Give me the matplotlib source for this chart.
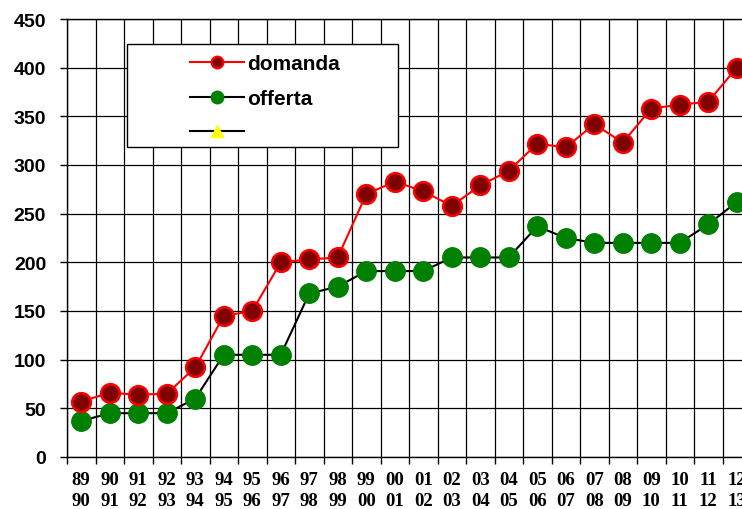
import matplotlib
matplotlib.use('Agg')
import matplotlib.pyplot as plt
from matplotlib.lines import Line2D
from matplotlib.patches import Rectangle
import numpy as np

years = ['89\n90', '90\n91', '91\n92', '92\n93', '93\n94', '94\n95', '95\n96', '96\n97',
         '97\n98', '98\n99', '99\n00', '00\n01', '01\n02', '02\n03', '03\n04', '04\n05',
         '05\n06', '06\n07', '07\n08', '08\n09', '09\n10', '10\n11', '11\n12', '12\n13']
domanda = [57, 66, 64, 65, 92, 145, 150, 200, 203, 205, 270, 283, 273, 258, 279, 294,
           322, 318, 342, 323, 358, 362, 365, 400]
offerta = [37, 45, 45, 45, 60, 105, 105, 105, 168, 175, 191, 191, 191, 205, 205, 205,
           237, 225, 220, 220, 220, 220, 239, 262]
y_ticks = [0, 50, 100, 150, 200, 250, 300, 350, 400, 450]

fig = plt.figure(figsize=(7.42, 5.10), dpi=100)
ax = fig.add_axes([67 / 742, 1 - 458 / 510, 684 / 742, 438 / 510])

x = np.arange(len(years))
ax.plot(x, offerta, color='black', lw=1.5, marker='o', ms=14,
        mfc='#008000', mec='#008000', zorder=3)
ax.plot(x, domanda, color='red', lw=1.5, marker='o', ms=13.5,
        mfc='#800000', mec='red', mew=1.8, zorder=4)

ax.set_xlim(-0.5, len(years) - 0.5)
ax.set_ylim(0, 450)
ax.set_yticks(y_ticks)
ax.set_yticklabels([str(v) for v in y_ticks], fontsize=14, fontweight='bold',
                   family='Liberation Sans')
ax.tick_params(axis='y', length=5, width=1, pad=10)

ax.set_xticks(np.arange(len(years) + 1) - 0.5)
ax.set_xticklabels([])
ax.tick_params(axis='x', which='major', length=5, width=1, direction='out')
ax.set_xticks(x, minor=True)
ax.set_xticklabels(years, minor=True, fontsize=13.5, fontweight='bold',
                   family='Liberation Serif', linespacing=1.3)
ax.tick_params(axis='x', which='minor', length=0, pad=10)

ax.grid(True, which='major', color='black', lw=0.9)
ax.set_axisbelow(True)
for s in ax.spines.values():
    s.set_color('black')
    s.set_linewidth(1)

box = Rectangle((127 / 742, 1 - 148 / 510), 271 / 742, 103 / 510,
                transform=fig.transFigure, facecolor='white', edgecolor='black',
                lw=1, zorder=6)
ax.add_patch(box)
box.set_clip_on(False)

handles = [
    Line2D([], [], color='red', lw=1.5, marker='o', ms=8.5, mfc='#800000', mec='red', mew=1.5),
    Line2D([], [], color='black', lw=1.5, marker='o', ms=9, mfc='#008000', mec='#008000'),
    Line2D([], [], color='black', lw=1.5, marker='^', ms=9, mfc='yellow', mec='yellow'),
]
leg = ax.legend(handles, ['domanda', 'offerta', ''], loc='upper left',
                bbox_to_anchor=(180 / 742, 1 - 45 / 510), bbox_transform=fig.transFigure,
                frameon=False, borderpad=0, handlelength=2.55, handletextpad=0.15,
                labelspacing=0.75, prop={'family': 'Liberation Sans', 'weight': 'bold', 'size': 15})
leg.set_zorder(10)

fig.savefig('out.png', dpi=100)
